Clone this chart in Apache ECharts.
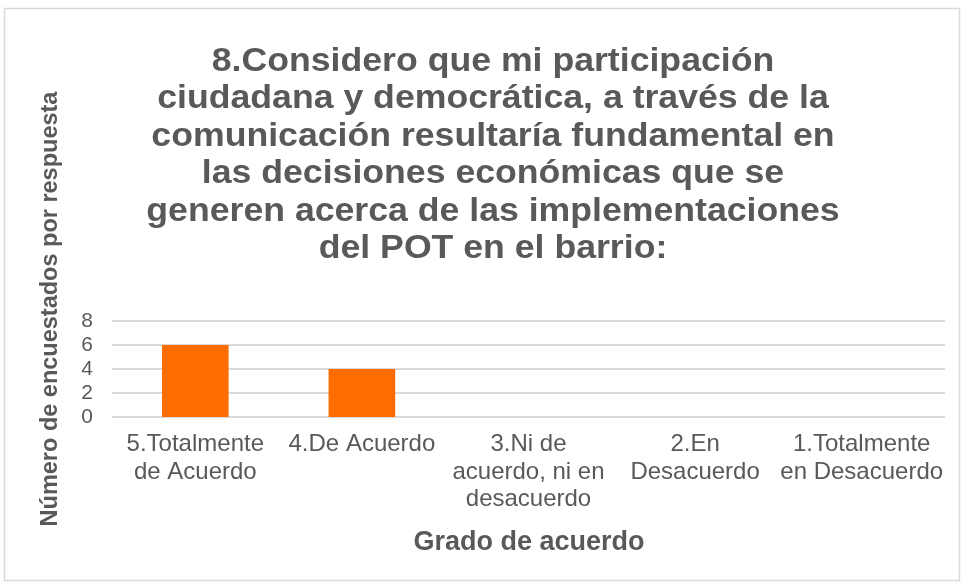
<!DOCTYPE html>
<html><head><meta charset="utf-8">
<script src="https://cdn.jsdelivr.net/npm/echarts@6/dist/echarts.min.js"></script>
<style>html,body{margin:0;padding:0;background:#fff}#c{width:964px;height:583px}</style>
</head><body><div id="c"></div>
<script>
var categories = ["5.Totalmente\nde Acuerdo", "4.De Acuerdo", "3.Ni de\nacuerdo, ni en\ndesacuerdo", "2.En\nDesacuerdo", "1.Totalmente\nen Desacuerdo"];
var values = [6, 4, 0, 0, 0];
var yTicks = [0, 2, 4, 6, 8];
var titleText = "8.Considero que mi participación\nciudadana y democrática, a través de la\ncomunicación resultaría fundamental en\nlas decisiones económicas que se\ngeneren acerca de las implementaciones\ndel POT en el barrio:";
var yName = "Número de encuestados por respuesta";
var xName = "Grado de acuerdo";

var chart = echarts.init(document.getElementById('c'));
chart.setOption({
  animation: false,
  grid: { left: 112, right: 19, top: 321, bottom: 166 },
  xAxis: {
    type: 'category', data: categories,
    axisLine: { show: false }, axisTick: { show: false },
    axisLabel: { interval: 0, color: '#595959', fontFamily: 'Liberation Sans', fontSize: 24, lineHeight: 27.5, margin: 14 }
  },
  yAxis: {
    type: 'value', min: yTicks[0], max: yTicks[yTicks.length - 1], interval: 2,
    axisLine: { show: false }, axisTick: { show: false },
    splitLine: { lineStyle: { color: '#d9d9d9', width: 2 } },
    axisLabel: { color: '#595959', fontFamily: 'Liberation Sans', fontSize: 21, margin: 19 }
  },
  series: [{ type: 'bar', data: values, barWidth: '40%', itemStyle: { color: '#ff6d00' } }],
  graphic: [
    { type: 'rect', shape: { x: 4.5, y: 8.5, width: 955, height: 572 }, style: { fill: 'none', stroke: '#d9d9d9', lineWidth: 1.5 }, silent: true },
    { type: 'text', x: 493, y: 43, scaleX: 1.08,
      style: { text: titleText, align: 'center', verticalAlign: 'top', textAlign: 'center', textVerticalAlign: 'top',
        lineHeight: 37.5, fill: '#595959', font: 'bold 33px "Liberation Sans"' } },
    { type: 'text', x: 51, y: 309, rotation: Math.PI / 2,
      style: { text: yName, align: 'center', verticalAlign: 'middle', textAlign: 'center', textVerticalAlign: 'middle',
        fill: '#595959', font: 'bold 23.5px "Liberation Sans"' } },
    { type: 'text', x: 529, y: 543,
      style: { text: xName, align: 'center', verticalAlign: 'middle', textAlign: 'center', textVerticalAlign: 'middle',
        fill: '#595959', font: 'bold 27px "Liberation Sans"' } }
  ]
});
</script></body></html>
